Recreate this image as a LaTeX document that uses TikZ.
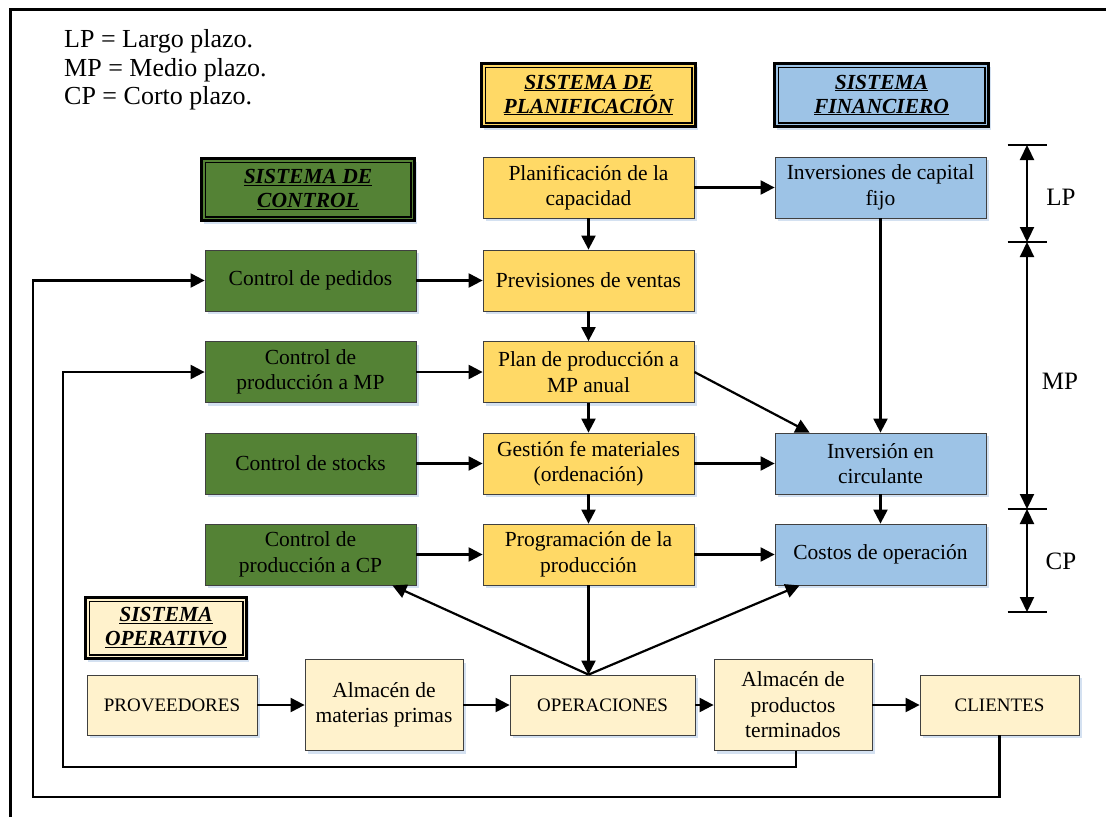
\documentclass[tikz,border=0pt]{standalone}
\usepackage{fontspec}
\setmainfont{Liberation Serif}
\usetikzlibrary{arrows.meta,shadows,calc}

\definecolor{plan}{HTML}{FFD966}
\definecolor{ctrl}{HTML}{548235}
\definecolor{fin}{HTML}{9DC3E6}
\definecolor{oper}{HTML}{FFF2CC}
\definecolor{edge}{HTML}{404040}
\definecolor{shade}{HTML}{C9D9EE}

% inner rule of a framed title
\newcommand\innerrule[1]{%
  \draw[line width=1.6pt] ($(#1.north west)+(5.5,5.5)$) rectangle ($(#1.south east)+(-5.5,-5.5)$);}

\begin{document}
\begin{tikzpicture}[x=1pt,y=-1pt,
  font=\fontsize{21.5}{25.5}\selectfont,
  basebox/.style={draw=edge, line width=0.8pt, align=center, inner sep=2pt,
    drop shadow={shadow xshift=2.5pt, shadow yshift=-3pt, fill=shade, opacity=0.8}},
  planbox/.style={basebox, fill=plan, minimum width=211pt, minimum height=61pt},
  ctrlbox/.style={basebox, fill=ctrl, minimum width=211pt, minimum height=61pt},
  finbox/.style={basebox, fill=fin, minimum width=211pt, minimum height=61pt},
  opbox/.style={basebox, fill=oper},
  header/.style={draw=black, line width=3.4pt, fill=#1, align=center,
    font=\fontsize{21.5}{24}\selectfont\bfseries\itshape,
    drop shadow={shadow xshift=2.5pt, shadow yshift=-3pt, fill=shade, opacity=0.8}},
  conn/.style={line width=2.2pt, -{Triangle[length=14pt,width=14pt]}},
  span/.style={line width=2.2pt, {Triangle[length=15pt,width=14pt]}-{Triangle[length=15pt,width=14pt]}},
  legend/.style={anchor=base west, inner sep=0pt, font=\fontsize{26}{29}\selectfont},
  period/.style={font=\fontsize{25}{29}\selectfont, inner sep=0pt}
]
\useasboundingbox (0,0) rectangle (1106,817);

% outer frame (top and left edges)
\draw[line width=3.2pt] (10.5,817) -- (10.5,9.7) -- (1106,9.7);

% legend
\node[legend] (lgLP) at (64,47) {LP = Largo plazo.};
\node[legend] (lgMP) at (64,76) {MP = Medio plazo.};
\node[legend] (lgCP) at (64,104) {CP = Corto plazo.};

% titles
\node[header=plan, minimum width=214pt, minimum height=63pt] (hplan) at (588.5,95)
  {\underline{SISTEMA DE}\\\underline{PLANIFICACIÓN}};
\innerrule{hplan}
\node[header=fin, minimum width=214pt, minimum height=63pt] (hfin) at (881.5,95)
  {\underline{SISTEMA}\\\underline{FINANCIERO}};
\innerrule{hfin}
\node[header=ctrl, minimum width=213pt, minimum height=62pt] (hctrl) at (308,189.5)
  {\underline{SISTEMA DE}\\\underline{CONTROL}};
\innerrule{hctrl}
\node[header=oper, minimum width=161pt, minimum height=61pt] (hop) at (166,628)
  {\underline{SISTEMA}\\\underline{OPERATIVO}};
\innerrule{hop}

% planning column
\node[planbox] (pcap) at (588.5,187.5) {Planificación de la\\capacidad};
\node[planbox] (prev) at (588.5,280.5) {Previsiones de ventas};
\node[planbox] (pprod) at (588.5,372) {Plan de producción a\\MP anual};
\node[planbox] (gest) at (588.5,463.5) {Gestión fe materiales\\(ordenación)};
\node[planbox] (prog) at (588.5,554.5) {Programación de la\\producción};

% control column
\node[ctrlbox] (cped) at (310.5,280.5) {Control de pedidos};
\node[ctrlbox] (cpmp) at (310.5,372) {Control de\\producción a MP};
\node[ctrlbox] (cstk) at (310.5,463.5) {Control de stocks};
\node[ctrlbox] (cpcp) at (310.5,554.5) {Control de\\producción a CP};

% financial column
\node[finbox] (fijo) at (880.5,187.5) {Inversiones de capital\\fijo};
\node[finbox] (circ) at (880.5,463.5) {Inversión en\\circulante};
\node[finbox] (cost) at (880.5,554.5) {Costos de operación};

% operating chain
\node[opbox, minimum width=170pt, minimum height=60pt] (prov) at (172,705) {\fontsize{19}{24}\selectfont PROVEEDORES};
\node[opbox, minimum width=158pt, minimum height=91pt] (amp) at (384,705) {Almacén de\\materias primas};
\node[opbox, minimum width=185pt, minimum height=60pt] (ops) at (602.5,705) {\fontsize{19}{24}\selectfont OPERACIONES};
\node[opbox, minimum width=158pt, minimum height=91pt] (apt) at (793,705) {Almacén de\\productos\\terminados};
\node[opbox, minimum width=159pt, minimum height=60pt] (cli) at (999.5,705) {\fontsize{19}{24}\selectfont CLIENTES};

% planning flow
\draw[conn] (pcap) -- (fijo);
\draw[conn] (pcap) -- (prev);
\draw[conn] (prev) -- (pprod);
\draw[conn] (pprod) -- (gest);
\draw[conn] (gest) -- (prog);
\coordinate (opstop) at (prog.south |- ops.north);
\draw[conn] (prog.south) -- (opstop);

% control to planning
\draw[conn] (cped) -- (prev);
\draw[conn] (cpmp) -- (pprod);
\draw[conn] (cstk) -- (gest);
\draw[conn] (cpcp) -- (prog);

% planning to finance
\draw[conn] (pprod.east) -- ([xshift=35pt]circ.north west);
\draw[conn] (fijo) -- (circ);
\draw[conn] (gest) -- (circ);
\draw[conn] (circ) -- (cost);
\draw[conn] (prog) -- (cost);

% feedback from operations
\draw[conn] (opstop) -- ([xshift=-24pt]cpcp.south east);
\draw[conn] (opstop) -- ([xshift=25pt]cost.south west);

% material flow
\draw[conn] (prov) -- (amp);
\draw[conn] (amp) -- (ops);
\draw[conn] (ops) -- (apt);
\draw[conn] (apt) -- (cli);

% return loops
\coordinate (loopA) at (63,767);
\coordinate (loopB) at (33,797);
\draw[conn] ([xshift=3pt]apt.south) |- (loopA) |- (cpmp.west);
\draw[conn] (cli.south) |- (loopB) |- (cped.west);

% time horizon scale
\coordinate (t1) at (1027,145);
\coordinate (t2) at (1027,242);
\coordinate (t3) at (1027,509);
\coordinate (t4) at (1027,612);
\foreach \t in {t1,t2,t3,t4}
  \draw[line width=2.2pt] ($(\t)+(-19.5,0)$) -- ($(\t)+(19.5,0)$);
\draw[span] (t1) -- (t2);
\draw[span] (t2) -- (t3);
\draw[span] (t3) -- (t4);
\node[period] (pLP) at (1061,197) {LP};
\node[period] (pMP) at (1060,381) {MP};
\node[period] (pCP) at (1061,561) {CP};
\end{tikzpicture}
\end{document}
